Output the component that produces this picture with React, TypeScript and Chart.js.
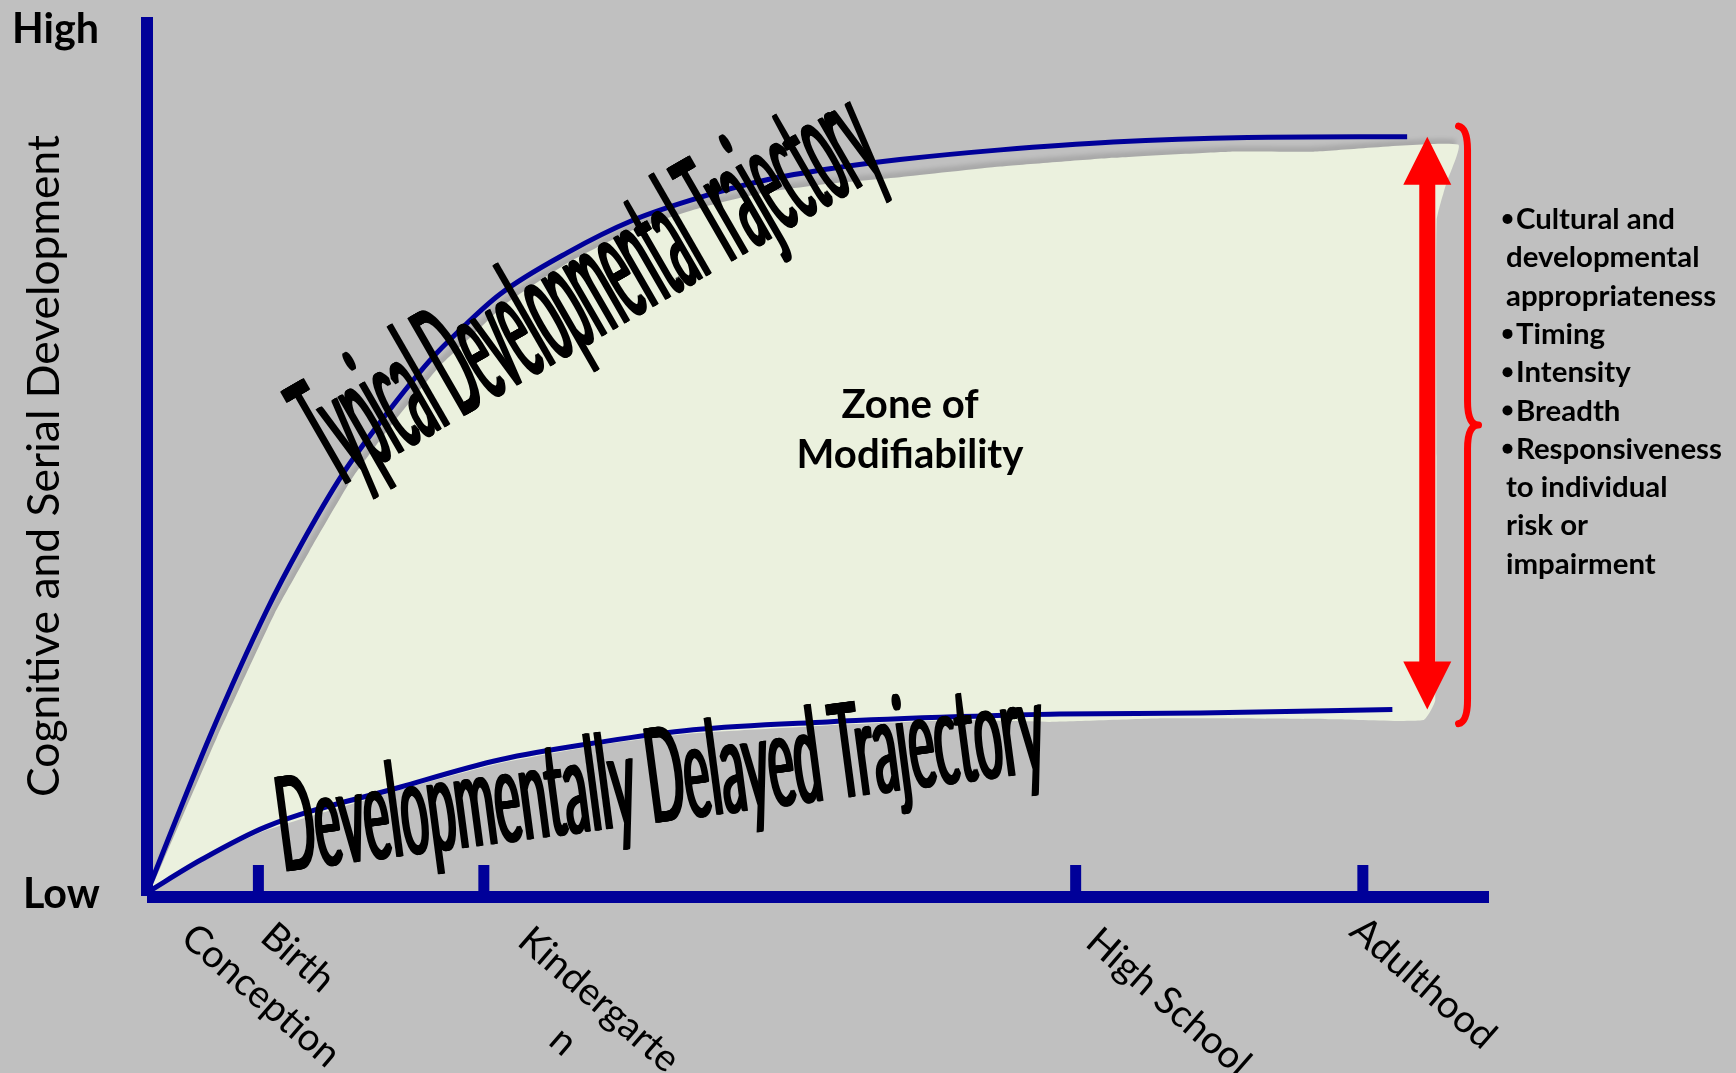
import React, { useEffect, useRef } from 'react';
import { Chart, registerables } from 'chart.js';

Chart.register(...registerables);

// Horizontal axis: developmental time, 0 = conception, 100 = end of the axis.
const stageLabels = ['Conception', 'Birth', 'Kindergarten', 'High School', 'Adulthood'];
const stageX = [0, 8.3, 25.1, 69.2, 90.6];
const stageHasTick = [false, true, true, true, true];
const stageLabelLines = [['Conception'], ['Birth'], ['Kindergarte', 'n'], ['High School'], ['Adulthood']];

// Vertical axis: level of development, 0 = Low, 100 = High.
const levelLabels = ['Low', 'High'];

// Typical developmental trajectory
const typicalX = [0, 4.7, 8.9, 11.4, 14.6, 17.6, 21.1, 23.3, 26.3, 31.3, 36.2, 41.2, 46.2, 51.1, 56.1, 63.6, 72.0, 82.0, 93.9];
const typicalY = [0.5, 18.3, 32.5, 39.8, 48.1, 54.4, 61.0, 64.4, 68.5, 73.2, 76.9, 79.5, 81.5, 82.8, 83.8, 84.9, 85.8, 86.3, 86.4];

// Developmentally delayed trajectory
const delayedX = [0, 4.0, 8.9, 18.9, 26.3, 33.8, 40.7, 50.7, 60.6, 68.0, 78.5, 92.8];
const delayedY = [0.5, 4.2, 8.0, 12.5, 15.6, 17.6, 19.0, 19.9, 20.5, 20.8, 20.9, 21.3];

// Outline of the zone of modifiability (top edge, right edge, then bottom edge back to the origin)
const zoneX = [0.2, 5.2, 9.5, 12.1, 15.3, 18.3, 21.8, 24.1, 26.9, 31.5, 36.2, 41.2, 46.2, 51.1, 56.1, 63.6, 72.0, 80.7, 86.9, 97.7,
  96.8, 96.1, 96.1, 96.0, 95.1,
  88.4, 76.0, 67.3, 60.6, 50.7, 40.7, 33.8, 26.3, 18.9, 8.9, 3.9, 0.2];
const zoneY = [0.5, 18.1, 32.2, 39.3, 47.6, 53.8, 60.3, 63.6, 67.6, 72.2, 75.8, 78.3, 80.1, 81.1, 81.8, 83.0, 84.0, 84.7, 84.7, 85.5,
  81.0, 76.9, 50.0, 22.4, 20.1,
  20.2, 20.3, 19.9, 20.1, 19.5, 18.6, 17.3, 15.2, 12.2, 7.6, 4.0, 0.5];

// Double arrow spanning the gap at adulthood, and the brace grouping the factors
const arrowX = 95.4;
const braceX = 98.4;
const braceTop = 87.6;
const braceBottom = 19.7;

const zoneTitle = ['Zone of', 'Modifiability'];
const factorLines = [
  { bullet: true, text: 'Cultural and' },
  { bullet: false, text: 'developmental' },
  { bullet: false, text: 'appropriateness' },
  { bullet: true, text: 'Timing' },
  { bullet: true, text: 'Intensity' },
  { bullet: true, text: 'Breadth' },
  { bullet: true, text: 'Responsiveness' },
  { bullet: false, text: 'to individual' },
  { bullet: false, text: 'risk or' },
  { bullet: false, text: 'impairment' },
];
const yTitle = 'Cognitive and Serial Development';
const typicalTitle = 'Typical Developmental Trajectory';
const delayedTitle = 'Developmentally Delayed Trajectory';

const W = 1736;
const H = 1073;
const BG = '#C0C0C0';
const BLUE = '#000099';
const GREEN = '#EBF1DE';
const RED = '#FF0000';
const FONT = 'Lato, "Open Sans", "DejaVu Sans", sans-serif';
const ZONE_INDEX = 2;

// Offsets of each stage label (baseline start, relative to its tick on the axis)
const stageLabelOffset: Record<string, [number, number]> = {
  Conception: [32, 44],
  Birth: [0, 43],
  Kindergarten: [32, 47],
  'High School': [8, 48],
  Adulthood: [-15, 37],
};

function fitSize(ctx: CanvasRenderingContext2D, text: string, weight: number, target: number) {
  ctx.font = `${weight} 100px ${FONT}`;
  return (100 * target) / ctx.measureText(text).width;
}

// Tall, horizontally condensed lettering placed along a rotated baseline
function drawCondensed(
  ctx: CanvasRenderingContext2D, text: string, x: number, y: number,
  angleDeg: number, capHeight: number, length: number, thicken: number,
) {
  const size = capHeight / 0.7165;
  ctx.save();
  ctx.font = `400 ${size}px ${FONT}`;
  const w = ctx.measureText(text).width;
  const sx = (length - thicken) / w;
  ctx.translate(x, y);
  ctx.rotate((angleDeg * Math.PI) / 180);
  ctx.scale(sx, 1);
  ctx.fillStyle = '#000';
  ctx.textAlign = 'left';
  ctx.textBaseline = 'alphabetic';
  for (let k = 0; k <= thicken; k += 1) ctx.fillText(text, k / sx, 0);
  ctx.restore();
}

function drawOverlay(chart: Chart) {
  const ctx = chart.ctx;
  const xs = chart.scales.x;
  const ys = chart.scales.y;
  const { left, right, top, bottom } = chart.chartArea;

  ctx.save();

  // Axes
  ctx.strokeStyle = BLUE;
  ctx.lineCap = 'butt';
  ctx.lineWidth = 12;
  ctx.beginPath();
  ctx.moveTo(left, top);
  ctx.lineTo(left, bottom - 1);
  ctx.stroke();
  ctx.beginPath();
  ctx.moveTo(left, bottom);
  ctx.lineTo(right, bottom);
  ctx.stroke();

  // Tick marks
  ctx.lineWidth = 11;
  stageX.forEach((v, i) => {
    if (!stageHasTick[i]) return;
    const px = xs.getPixelForValue(v);
    ctx.beginPath();
    ctx.moveTo(px, bottom);
    ctx.lineTo(px, bottom - 32);
    ctx.stroke();
  });

  // Stage labels, slanted down to the right
  const tickSize = fitSize(ctx, 'High School', 400, 203);
  ctx.font = `400 ${tickSize}px ${FONT}`;
  ctx.fillStyle = '#000';
  ctx.textAlign = 'left';
  ctx.textBaseline = 'alphabetic';
  const ang = (41 * Math.PI) / 180;
  stageX.forEach((v, i) => {
    const lines = stageLabelLines[i];
    const [dx, dy] = stageLabelOffset[stageLabels[i]];
    ctx.save();
    ctx.translate(xs.getPixelForValue(v) + dx, bottom + dy);
    ctx.rotate(ang);
    const w0 = ctx.measureText(lines[0]).width;
    lines.forEach((ln, j) => {
      const w = ctx.measureText(ln).width;
      ctx.fillText(ln, (w0 - w) / 2, j * tickSize * 1.42);
    });
    ctx.restore();
  });

  // Low / High
  const lvlSize = fitSize(ctx, levelLabels[1], 700, 87);
  ctx.font = `700 ${lvlSize}px ${FONT}`;
  ctx.fillText(levelLabels[1], 12, 43);
  ctx.fillText(levelLabels[0], 23, ys.getPixelForValue(0) + 11);

  // Vertical axis title
  const ySize = fitSize(ctx, yTitle, 400, 662);
  ctx.font = `400 ${ySize}px ${FONT}`;
  ctx.save();
  ctx.translate(59, 466);
  ctx.rotate(-Math.PI / 2);
  ctx.textAlign = 'center';
  ctx.fillText(yTitle, 0, 0);
  ctx.restore();

  // Zone label
  const zSize = fitSize(ctx, zoneTitle[1], 700, 227);
  ctx.font = `700 ${zSize}px ${FONT}`;
  ctx.textAlign = 'center';
  ctx.fillText(zoneTitle[0], 910, 418);
  ctx.fillText(zoneTitle[1], 910, 468);
  ctx.textAlign = 'left';

  // Red double arrow between the two trajectories at adulthood
  const ax = xs.getPixelForValue(arrowX);
  const aTop = ys.getPixelForValue(typicalY[typicalY.length - 1]);
  const aBot = ys.getPixelForValue(delayedY[delayedY.length - 1]);
  const hw = 24, sw = 8, hl = 48;
  ctx.fillStyle = RED;
  ctx.beginPath();
  ctx.moveTo(ax, aTop);
  ctx.lineTo(ax + hw, aTop + hl);
  ctx.lineTo(ax + sw, aTop + hl);
  ctx.lineTo(ax + sw, aBot - hl);
  ctx.lineTo(ax + hw, aBot - hl);
  ctx.lineTo(ax, aBot);
  ctx.lineTo(ax - hw, aBot - hl);
  ctx.lineTo(ax - sw, aBot - hl);
  ctx.lineTo(ax - sw, aTop + hl);
  ctx.lineTo(ax - hw, aTop + hl);
  ctx.closePath();
  ctx.fill();

  // Brace
  const bx = xs.getPixelForValue(braceX);
  const bTop = ys.getPixelForValue(braceTop);
  const bBot = ys.getPixelForValue(braceBottom);
  const bMid = (bTop + bBot) / 2;
  ctx.strokeStyle = RED;
  ctx.lineWidth = 7;
  ctx.lineCap = 'round';
  ctx.lineJoin = 'round';
  ctx.beginPath();
  ctx.moveTo(bx - 9, bTop);
  ctx.quadraticCurveTo(bx, bTop + 2, bx, bTop + 24);
  ctx.lineTo(bx, bMid - 24);
  ctx.quadraticCurveTo(bx, bMid, bx + 11, bMid);
  ctx.quadraticCurveTo(bx, bMid, bx, bMid + 24);
  ctx.lineTo(bx, bBot - 24);
  ctx.quadraticCurveTo(bx, bBot - 2, bx - 9, bBot);
  ctx.stroke();

  // Factor list
  const fSize = fitSize(ctx, 'Responsiveness', 700, 206);
  ctx.font = `700 ${fSize}px ${FONT}`;
  ctx.fillStyle = '#000';
  factorLines.forEach((ln, i) => {
    const by = 229 + i * 38.3;
    if (ln.bullet) {
      ctx.beginPath();
      ctx.arc(1507.5, by - 10, 5, 0, Math.PI * 2);
      ctx.fill();
      ctx.fillText(ln.text, 1516, by);
    } else {
      ctx.fillText(ln.text, 1506, by);
    }
  });

  // Trajectory titles
  drawCondensed(ctx, typicalTitle, 336, 490, -30, 113, 640, 3);
  drawCondensed(ctx, delayedTitle, 282, 872, -7.5, 95, 775, 3);

  ctx.restore();
}

const diagramPlugin = {
  id: 'diagram',
  beforeDraw(chart: Chart) {
    const { ctx, width, height } = chart;
    ctx.save();
    ctx.fillStyle = BG;
    ctx.fillRect(0, 0, width, height);
    ctx.restore();
  },
  beforeDatasetsDraw(chart: Chart) {
    const ctx = chart.ctx;
    ctx.save();
    ctx.shadowColor = 'rgba(0,0,0,0.12)';
    ctx.shadowOffsetX = -3;
    ctx.shadowOffsetY = -5;
    ctx.shadowBlur = 4;
  },
  afterDatasetDraw(chart: Chart, args: { index: number }) {
    if (args.index === ZONE_INDEX) {
      const ctx = chart.ctx;
      ctx.shadowColor = 'rgba(0,0,0,0)';
      ctx.shadowBlur = 0;
      ctx.shadowOffsetX = 0;
      ctx.shadowOffsetY = 0;
    }
  },
  afterDatasetsDraw(chart: Chart) {
    chart.ctx.restore();
    drawOverlay(chart);
  },
};

export default function App() {
  const ref = useRef<HTMLCanvasElement>(null);

  useEffect(() => {
    const canvas = ref.current;
    if (!canvas) return;
    const chart = new Chart(canvas, {
      type: 'line',
      data: {
        datasets: [
          {
            label: typicalTitle,
            data: typicalX.map((x, i) => ({ x, y: typicalY[i] })),
            borderColor: BLUE,
            borderWidth: 5,
            pointRadius: 0,
            fill: false,
            cubicInterpolationMode: 'monotone',
          },
          {
            label: delayedTitle,
            data: delayedX.map((x, i) => ({ x, y: delayedY[i] })),
            borderColor: BLUE,
            borderWidth: 5,
            pointRadius: 0,
            fill: false,
            cubicInterpolationMode: 'monotone',
          },
          {
            label: zoneTitle.join(' '),
            data: zoneX.map((x, i) => ({ x, y: zoneY[i] })),
            borderWidth: 0,
            borderColor: 'rgba(0,0,0,0)',
            backgroundColor: GREEN,
            pointRadius: 0,
            fill: 'shape',
            tension: 0.15,
          },
        ],
      },
      options: {
        animation: false,
        responsive: false,
        devicePixelRatio: 1,
        events: [],
        layout: { padding: { left: 147, right: W - 1489, top: 17, bottom: H - 897 } },
        scales: {
          x: { type: 'linear', min: 0, max: 100, display: false },
          y: { type: 'linear', min: 0, max: 100, display: false },
        },
        plugins: {
          legend: { display: false },
          tooltip: { enabled: false },
        },
      },
      plugins: [diagramPlugin as any],
    });
    return () => chart.destroy();
  }, []);

  return (
    <div style={{ position: 'fixed', left: 0, top: 0, width: W, height: H, background: BG }}>
      <canvas ref={ref} width={W} height={H} style={{ display: 'block', width: W, height: H }} />
    </div>
  );
}
